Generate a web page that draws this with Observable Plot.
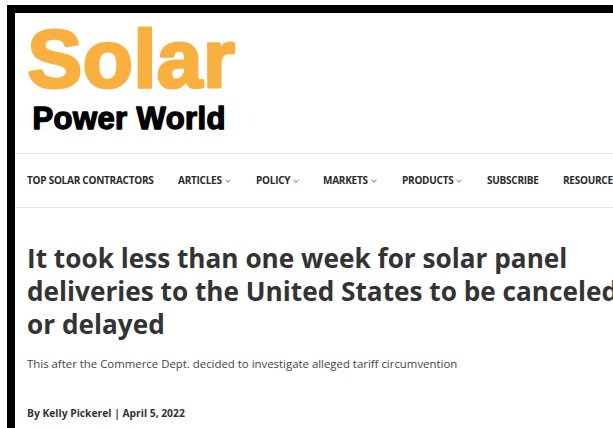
<!DOCTYPE html>
<html>
<head>
<meta charset="utf-8">
<script src="https://cdn.jsdelivr.net/npm/d3@7"></script>
<script src="https://cdn.jsdelivr.net/npm/@observablehq/plot@0.6"></script>
<style>
  html, body { margin: 0; padding: 0; background: #fff; overflow: hidden; }
  body { width: 613px; height: 428px; position: relative; font-family: "Open Sans", sans-serif; }
  #frame { position: absolute; left: 7px; top: 5px; width: 700px; height: 418px;
           border-left: 8px solid #000; border-top: 8px solid #000; border-bottom: 2px solid #000; }
  #logo { position: absolute; left: 15px; top: 13px; }
  .rule { position: absolute; left: 15px; width: 700px; height: 1px; background: #e6e6e6; }
  #nav { position: absolute; left: 27px; top: 173px; white-space: nowrap;
         font-family: "Open Sans", sans-serif; font-weight: 700; font-size: 10px; color: #2a2a2a; letter-spacing: -0.25px; }
  #nav span.item { position: absolute; top: 0; }
  .chev { display: inline-block; width: 3px; height: 3px; border-right: 1px solid #999; border-bottom: 1px solid #999;
          transform: rotate(45deg); margin-left: 4px; position: relative; top: -2px; }
  #title { position: absolute; left: 27px; top: 242px; width: 700px; margin: 0; white-space: pre;
           font-family: "Open Sans", sans-serif; font-weight: 700; font-size: 26.2px; line-height: 33px; color: #333; }
  #sub { position: absolute; left: 27px; top: 356px; margin: 0; white-space: nowrap;
         font-family: "Open Sans", sans-serif; font-size: 11.4px; color: #444; }
  #by { position: absolute; left: 27px; top: 406px; margin: 0; white-space: nowrap;
        font-family: "Open Sans", sans-serif; font-weight: 700; font-size: 10.3px; color: #333; }
</style>
</head>
<body>
<div id="frame"></div>
<div id="logo"></div>
<div class="rule" style="top:153px"></div>
<div class="rule" style="top:207px"></div>
<div id="nav"></div>
<h1 id="title"></h1>
<p id="sub"></p>
<p id="by"></p>
<script>
const logoWords = ["Solar", "Power World"];
const navItems = ["TOP SOLAR CONTRACTORS", "ARTICLES", "POLICY", "MARKETS", "PRODUCTS", "SUBSCRIBE", "RESOURCES"];
const navHasMenu = [false, true, true, true, true, false, true];
const navLeft = [0, 151, 229, 296, 375, 460, 536];
const headlineLines = ["It took less than one week for solar panel", "deliveries to the United States to be canceled", "or delayed"];
const subtitle = "This after the Commerce Dept. decided to investigate alleged tariff circumvention";
const byline = "By Kelly Pickerel | April 5, 2022";

const logo = Plot.plot({
  width: 250, height: 125, margin: 0,
  x: {axis: null}, y: {axis: null},
  marks: [
    Plot.text([logoWords[0]], {
      frameAnchor: "top-left", text: d => d, dx: 12, dy: 15,
      fontSize: 82, fontWeight: 700, fontFamily: "Liberation Sans",
      fill: "#f9b03f", stroke: "#f9b03f", strokeWidth: 3, lineAnchor: "top"
    }),
    Plot.text([logoWords[1]], {
      frameAnchor: "top-left", text: d => d, dx: 17, dy: 93,
      fontSize: 31, fontWeight: 700, fontFamily: "Liberation Sans",
      fill: "#000", stroke: "#000", strokeWidth: 1.4, lineAnchor: "top"
    })
  ],
  style: {background: "transparent", overflow: "visible"}
});
d3.select(logo).selectAll("text").filter((d, i) => i === 0).style("letter-spacing", "0.6px");
d3.select(logo).selectAll("text").filter((d, i) => i === 1).style("letter-spacing", "0.4px");
document.getElementById("logo").appendChild(logo);

const nav = d3.select("#nav");
navItems.forEach((t, i) => {
  const s = nav.append("span").attr("class", "item").style("left", navLeft[i] + "px").text(t);
  if (navHasMenu[i]) s.append("span").attr("class", "chev");
});
document.getElementById("title").textContent = headlineLines.join("\n");
document.getElementById("sub").textContent = subtitle;
document.getElementById("by").textContent = byline;
</script>
</body>
</html>
